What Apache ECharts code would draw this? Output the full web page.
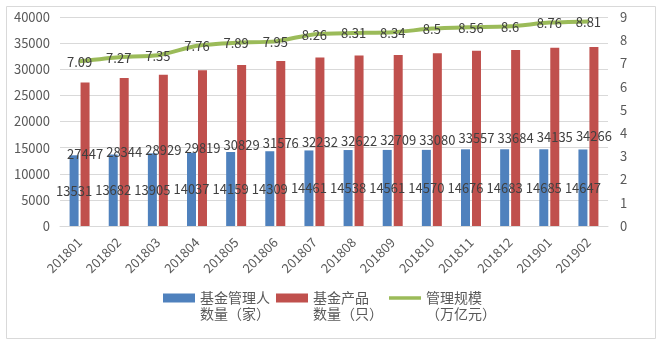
<!DOCTYPE html>
<html><head><meta charset="utf-8">
<script src="https://cdn.jsdelivr.net/npm/echarts@6/dist/echarts.min.js"></script>
<style>html,body{margin:0;padding:0;background:#fff}#c{width:662px;height:346px}</style>
</head><body><div id="c"></div>
<script>
var categories = ['201801','201802','201803','201804','201805','201806','201807','201808','201809','201810','201811','201812','201901','201902'];
var managers = [13531,13682,13905,14037,14159,14309,14461,14538,14561,14570,14676,14683,14685,14647];
var products = [27447,28344,28929,29819,30829,31576,32232,32622,32709,33080,33557,33684,34135,34266];
var scale = [7.09,7.27,7.35,7.76,7.89,7.95,8.26,8.31,8.34,8.5,8.56,8.6,8.76,8.81];
var seriesNames = ['基金管理人\n数量（家）','基金产品\n数量（只）','管理规模\n（万亿元）'];

var chart = echarts.init(document.getElementById('c'));
var font = '"Microsoft YaHei","Noto Sans CJK SC",sans-serif';
var lbl = {show:true, position:'inside', color:'#404040', fontSize:13, fontFamily:font};
chart.setOption({
  animation:false,
  textStyle:{fontFamily:font},
  graphic:[{type:'rect', shape:{x:6.5,y:6.5,width:649,height:332}, style:{fill:'none', stroke:'#d9d9d9', lineWidth:1}, silent:true, z:-1}],
  grid:{left:60, right:54, top:17, bottom:120},
  legend:{
    left:158, top:269, itemGap:6, itemWidth:32, itemHeight:9,
    formatter:function(n){return ' \n' + n;},
    textStyle:{color:'#595959', fontSize:14, lineHeight:16},
    data:[{name:seriesNames[0], icon:'rect'},{name:seriesNames[1], icon:'rect'},
          {name:seriesNames[2], icon:'path://M0,0 L35,0 L35,4 L0,4 Z', itemStyle:{color:'#9BBB59', opacity:1}}]
  },
  xAxis:{type:'category', data:categories,
    axisLine:{lineStyle:{color:'#d9d9d9'}}, axisTick:{show:false},
    axisLabel:{rotate:45, color:'#595959', fontSize:13, margin:14, interval:0}},
  yAxis:[
    {type:'value', min:0, max:40000, interval:5000,
     axisLine:{show:false}, axisTick:{show:false},
     splitLine:{lineStyle:{color:'#d9d9d9'}},
     axisLabel:{color:'#595959', fontSize:13, margin:10, formatter:function(v){return String(v);}}},
    {type:'value', min:0, max:9, interval:1,
     axisLine:{show:false}, axisTick:{show:false}, splitLine:{show:false},
     axisLabel:{color:'#595959', fontSize:13, margin:12}}
  ],
  series:[
    {name:seriesNames[0], type:'bar', data:managers, barWidth:9, barGap:'22%', itemStyle:{color:'#4F81BD'}, label:lbl},
    {name:seriesNames[1], type:'bar', data:products, barWidth:9, itemStyle:{color:'#C0504D'}, label:lbl},
    {name:seriesNames[2], type:'line', yAxisIndex:1, data:scale, smooth:0.2, symbol:'circle', symbolSize:2, showSymbol:true,
     lineStyle:{color:'#9BBB59', width:4}, itemStyle:{color:'#9BBB59'},
     label:{show:true, position:'top', distance:0, offset:[0,8], color:'#404040', fontSize:13, fontFamily:font}, z:5}
  ]
});
</script></body></html>
